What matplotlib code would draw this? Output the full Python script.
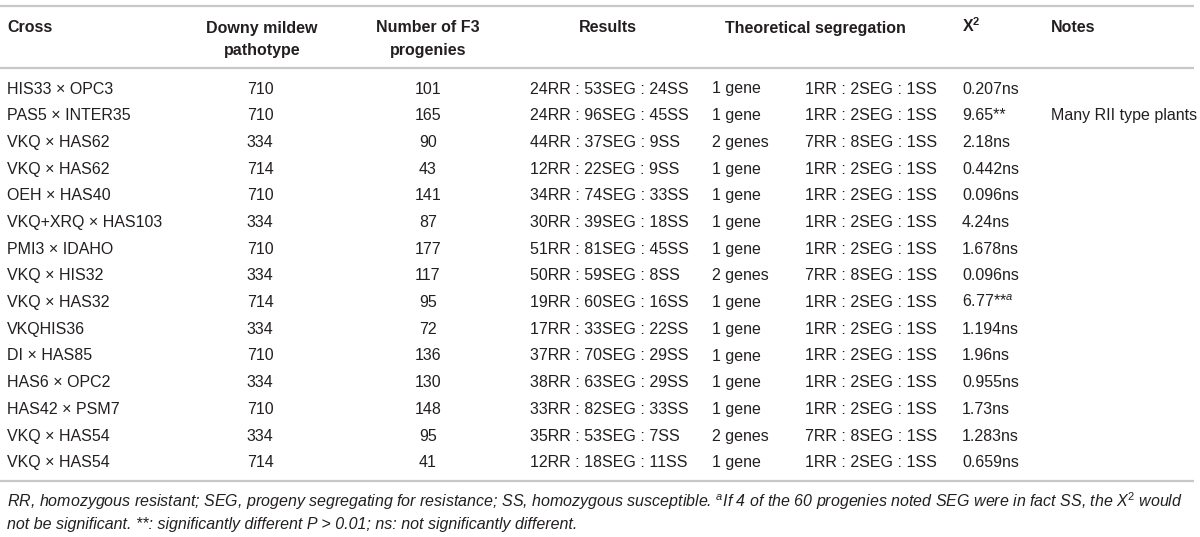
import matplotlib.pyplot as plt

plt.rcParams['font.family'] = ['Liberation Sans', 'DejaVu Sans']
plt.rcParams['mathtext.fontset'] = 'custom'
plt.rcParams['mathtext.rm'] = 'Liberation Sans'
plt.rcParams['mathtext.it'] = 'Liberation Sans:italic'
plt.rcParams['mathtext.bf'] = 'Liberation Sans:bold'

# table content
headers = ["Cross", "Downy mildew\npathotype", "Number of F3\nprogenies", "Results",
           "Theoretical segregation", "X$^{\\mathbf{2}}$", "Notes"]
crosses = ["HIS33 \u00d7 OPC3", "PAS5 \u00d7 INTER35", "VKQ \u00d7 HAS62", "VKQ \u00d7 HAS62",
           "OEH \u00d7 HAS40", "VKQ+XRQ \u00d7 HAS103", "PMI3 \u00d7 IDAHO", "VKQ \u00d7 HIS32",
           "VKQ \u00d7 HAS32", "VKQHIS36", "DI \u00d7 HAS85", "HAS6 \u00d7 OPC2",
           "HAS42 \u00d7 PSM7", "VKQ \u00d7 HAS54", "VKQ \u00d7 HAS54"]
pathotype = ["710", "710", "334", "714", "710", "334", "710", "334", "714", "334",
             "710", "334", "710", "334", "714"]
progenies = ["101", "165", "90", "43", "141", "87", "177", "117", "95", "72",
             "136", "130", "148", "95", "41"]
results = ["24RR : 53SEG : 24SS", "24RR : 96SEG : 45SS", "44RR : 37SEG : 9SS",
           "12RR : 22SEG : 9SS", "34RR : 74SEG : 33SS", "30RR : 39SEG : 18SS",
           "51RR : 81SEG : 45SS", "50RR : 59SEG : 8SS", "19RR : 60SEG : 16SS",
           "17RR : 33SEG : 22SS", "37RR : 70SEG : 29SS", "38RR : 63SEG : 29SS",
           "33RR : 82SEG : 33SS", "35RR : 53SEG : 7SS", "12RR : 18SEG : 11SS"]
genes = ["1 gene", "1 gene", "2 genes", "1 gene", "1 gene", "1 gene", "1 gene",
         "2 genes", "1 gene", "1 gene", "1 gene", "1 gene", "1 gene", "2 genes", "1 gene"]
ratio = ["1RR : 2SEG : 1SS", "1RR : 2SEG : 1SS", "7RR : 8SEG : 1SS", "1RR : 2SEG : 1SS",
         "1RR : 2SEG : 1SS", "1RR : 2SEG : 1SS", "1RR : 2SEG : 1SS", "7RR : 8SEG : 1SS",
         "1RR : 2SEG : 1SS", "1RR : 2SEG : 1SS", "1RR : 2SEG : 1SS", "1RR : 2SEG : 1SS",
         "1RR : 2SEG : 1SS", "7RR : 8SEG : 1SS", "1RR : 2SEG : 1SS"]
chi2 = ["0.207ns", "9.65**", "2.18ns", "0.442ns", "0.096ns", "4.24ns", "1.678ns",
        "0.096ns", "6.77**$^{a}$", "1.194ns", "1.96ns", "0.955ns", "1.73ns", "1.283ns",
        "0.659ns"]
notes = ["", "Many RII type plants", "", "", "", "", "", "", "", "", "", "", "", "", ""]
footnote = [
    "RR, homozygous resistant; SEG, progeny segregating for resistance; SS, homozygous "
    "susceptible. $^{a}$If 4 of the 60 progenies noted SEG were in fact SS, the X$^{2}$ would",
    "not be significant. **: significantly different P > 0.01; ns: not significantly different.",
]

txt = '#231f20'
rule = '#c8c8c8'
fs = 11.5
cap = 5.5  # half cap height in pixels, to put baselines under the row centre

fig = plt.figure(figsize=(12, 5.37), dpi=100)
ax = fig.add_axes([0, 0, 1, 1])
ax.set_xlim(0, 1200)
ax.set_ylim(537, 0)
ax.axis('off')

# column anchors: (x, horizontal alignment)
head_pos = [(7, 'left'), (262, 'center'), (428, 'center'), (608, 'center'),
            (815, 'center'), (962, 'left'), (1051, 'left')]

for h, (x, ha) in zip(headers, head_pos):
    for i, line in enumerate(h.split('\n')):
        ax.text(x, 27 + 23 * i + cap, line, ha=ha, va='baseline', fontsize=fs,
                fontweight='bold', color=txt)

cols = [(crosses, 7, 'left'), (pathotype, 260, 'center'), (progenies, 428, 'center'),
        (results, 530, 'left'), (genes, 712, 'left'), (ratio, 805, 'left'),
        (chi2, 962, 'left'), (notes, 1051, 'left')]

y0, dy = 88, 26.7
for values, x, ha in cols:
    for k, v in enumerate(values):
        ax.text(x, y0 + dy * k + cap, v, ha=ha, va='baseline', fontsize=fs, color=txt)

for y in (6, 68, 481):
    ax.plot([0, 1194], [y, y], color=rule, lw=1.6, solid_capstyle='butt')

for i, line in enumerate(footnote):
    ax.text(7, 501 + 22 * i + cap, line, ha='left', va='baseline', fontsize=fs,
            fontstyle='italic', color=txt)

fig.savefig('out.png', dpi=100, facecolor='white')
